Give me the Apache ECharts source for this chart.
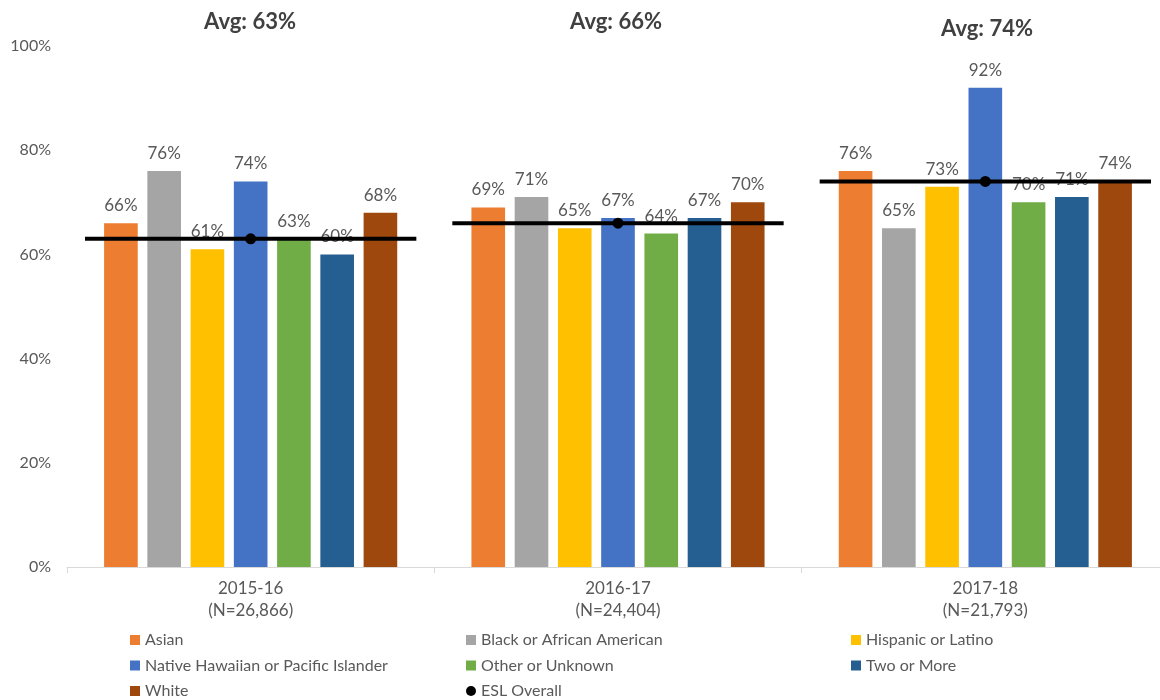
<!DOCTYPE html>
<html>
<head>
<meta charset="utf-8">
<script src="https://cdn.jsdelivr.net/npm/echarts@6/dist/echarts.min.js"></script>
<style>
  html, body { margin: 0; padding: 0; background: #fff; }
  #chart { width: 1160px; height: 700px; }
</style>
</head>
<body>
<div id="chart"></div>
<script>
// School years with cohort sizes
const years = ['2015-16\n(N=26,866)', '2016-17\n(N=24,404)', '2017-18\n(N=21,793)'];

// Share per race / ethnicity group (%)
const asian      = [66, 69, 76];
const black      = [76, 71, 65];
const hispanic   = [61, 65, 73];
const nhpi       = [74, 67, 92];
const other      = [63, 64, 70];
const twoOrMore  = [60, 67, 71];
const white      = [68, 70, 74];

// Overall ESL average per year (%)
const eslOverall = [63, 66, 74];

const yTicks = [0, 20, 40, 60, 80, 100];

const groups = [
  { name: 'Asian', data: asian, color: '#ED7D31' },
  { name: 'Black or African American', data: black, color: '#A5A5A5' },
  { name: 'Hispanic or Latino', data: hispanic, color: '#FFC000' },
  { name: 'Native Hawaiian or Pacific Islander', data: nhpi, color: '#4472C4' },
  { name: 'Other or Unknown', data: other, color: '#70AD47' },
  { name: 'Two or More', data: twoOrMore, color: '#255E91' },
  { name: 'White', data: white, color: '#9E480E' }
];

const FONT = 'Lato, "Open Sans", sans-serif';
const TEXT = '#595959';

const chart = echarts.init(document.getElementById('chart'), null, { renderer: 'canvas' });

const barSeries = groups.map(g => ({
  name: g.name,
  type: 'bar',
  data: g.data,
  barGap: '28.6%',
  barCategoryGap: '20.2%',
  itemStyle: { color: g.color },
  label: {
    show: true,
    position: 'top',
    distance: 9,
    formatter: p => p.value + '%',
    color: TEXT,
    fontFamily: FONT,
    fontSize: 17
  },
  z: 2
}));

// Horizontal average bar across each year group, with a dot at its centre
const eslSeries = {
  name: 'ESL Overall',
  type: 'custom',
  data: eslOverall.map((v, i) => [i, v]),
  itemStyle: { color: '#000' },
  z: 5,
  renderItem: function (params, api) {
    const p = api.coord([api.value(0), api.value(1)]);
    const band = api.size([1, 0])[0];
    const half = band * 0.451;
    return {
      type: 'group',
      children: [
        {
          type: 'line',
          shape: { x1: p[0] - half, y1: p[1], x2: p[0] + half, y2: p[1] },
          style: { stroke: '#000', lineWidth: 4 }
        },
        {
          type: 'circle',
          shape: { cx: p[0], cy: p[1], r: 5.5 },
          style: { fill: '#000' }
        }
      ]
    };
  }
};

const legendBase = {
  orient: 'vertical',
  itemWidth: 10,
  itemHeight: 10,
  itemGap: 9.5,
  top: 632,
  height: 120,
  padding: 0,
  selectedMode: false,
  textStyle: { color: TEXT, fontFamily: FONT, fontSize: 16, lineHeight: 16 }
};

const avgTexts = [
  { x: 250, y: 22 },
  { x: 616, y: 22 },
  { x: 987, y: 29 }
];

chart.setOption({
  animation: false,
  backgroundColor: '#fff',
  grid: { left: 67, top: 46, width: 1102, height: 521, containLabel: false, outerBoundsMode: 'none' },
  legend: [
    Object.assign({}, legendBase, {
      left: 130,
      data: [
        { name: 'Asian', icon: 'rect' },
        { name: 'Native Hawaiian or Pacific Islander', icon: 'rect' },
        { name: 'White', icon: 'rect' }
      ]
    }),
    Object.assign({}, legendBase, {
      left: 466,
      data: [
        { name: 'Black or African American', icon: 'rect' },
        { name: 'Other or Unknown', icon: 'rect' },
        { name: 'ESL Overall', icon: 'circle' }
      ]
    }),
    Object.assign({}, legendBase, {
      left: 851,
      data: [
        { name: 'Hispanic or Latino', icon: 'rect' },
        { name: 'Two or More', icon: 'rect' }
      ]
    })
  ],
  xAxis: {
    type: 'category',
    data: years,
    axisLine: { lineStyle: { color: '#D9D9D9', width: 1 } },
    axisTick: { show: true, length: 6, lineStyle: { color: '#D9D9D9' } },
    axisLabel: {
      color: TEXT,
      fontFamily: FONT,
      fontSize: 17,
      lineHeight: 22,
      margin: 11
    }
  },
  yAxis: {
    type: 'value',
    min: yTicks[0],
    max: yTicks[yTicks.length - 1],
    interval: 20,
    axisLine: { show: false },
    axisTick: { show: false },
    splitLine: { show: false },
    axisLabel: {
      color: TEXT,
      fontFamily: FONT,
      fontSize: 16,
      margin: 16,
      formatter: v => v + '%'
    }
  },
  graphic: eslOverall.map((v, i) => ({
    type: 'text',
    x: avgTexts[i].x,
    y: avgTexts[i].y,
    style: {
      text: 'Avg: ' + v + '%',
      fill: '#404040',
      font: 'bold 22px ' + FONT,
      textAlign: 'center',
      textVerticalAlign: 'middle'
    }
  })),
  series: barSeries.concat([eslSeries])
});
</script>
</body>
</html>
